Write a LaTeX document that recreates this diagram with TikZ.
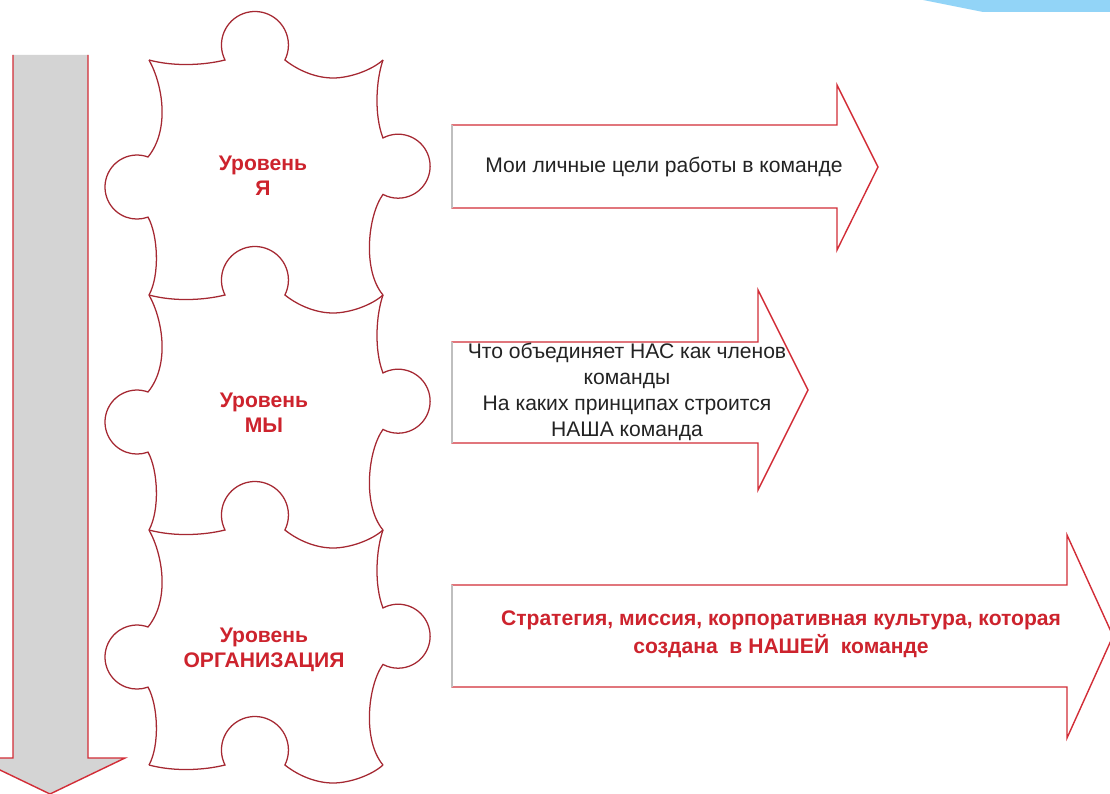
\documentclass[tikz,border=0pt]{standalone}
\usepackage{fontspec}
\setmainfont{Liberation Sans}
\definecolor{pz}{RGB}{165,40,50}
\definecolor{txtred}{RGB}{205,35,45}
\definecolor{arrline}{RGB}{210,45,55}
\definecolor{grayfill}{RGB}{212,212,212}
\definecolor{sky}{RGB}{146,212,247}
\definecolor{txtdark}{RGB}{35,35,35}
\tikzset{
  puz/.style={draw=pz, line width=0.9pt},
  bigarrow/.style={draw=arrline, line width=1pt, fill=white, line join=miter},
  leftedge/.style={draw=black!25, line width=0.8pt},
  lvl/.style={align=center, text=txtred, font=\bfseries\fontsize{15}{17.8}\selectfont, inner sep=0pt},
  plain/.style={align=center, text=txtdark, inner sep=0pt},
  redtxt/.style={align=center, text=txtred, font=\bfseries\fontsize{15}{20}\selectfont, inner sep=0pt}
}
\begin{document}
\begin{tikzpicture}[x=0.025cm, y=-0.025cm]
\clip (0,0) rectangle (1110,794);
\fill[white] (0,0) rectangle (1110,794);
% top-right blue band
\fill[sky] (923,0) -- (983,12) -- (1110,12) -- (1110,0) -- cycle;
% grey downward arrow
\fill[grayfill] (13,55) -- (13,758) -- (-25,758) -- (50,794) -- (125,758) -- (88,758) -- (88,55) -- cycle;
\draw[draw=arrline, line width=1pt] (13,55) -- (13,758) -- (-25,758) -- (50,794) -- (125,758) -- (88,758) -- (88,55);
% puzzle horizontal edges
\foreach \Y in {60,295,530,765} {
  \draw[puz] (149,\Y) .. controls (175,\Y+7) and (205,\Y+5) .. (225,\Y)
     arc[start angle=153.4, end angle=386.6, radius=33.5]
     .. controls (300,\Y+12) and (318,\Y+18) .. (333,\Y+18)
     .. controls (350,\Y+18) and (372,\Y+10) .. (383,\Y);
}
% puzzle sides
\foreach \Y in {60,295,530} {
  \draw[puz] (149,\Y) .. controls (163,\Y+25) and (170,\Y+70) .. (148,\Y+97)
     arc[start angle=290.1, end angle=69.9, radius=32]
     .. controls (158,\Y+175) and (160,\Y+215) .. (149,\Y+235);
  \draw[puz] (383,\Y) .. controls (376,\Y+20) and (374,\Y+55) .. (383,\Y+78)
     arc[start angle=241.8, end angle=478.2, radius=32]
     .. controls (368,\Y+155) and (362,\Y+210) .. (383,\Y+235);
}
% level labels
\node[lvl] (l1) at (263,175.5) {Уровень\\Я};
\node[lvl] (l2) at (264,412.5) {Уровень\\МЫ};
\node[lvl] (l3) at (264,650) {Уровень\\ОРГАНИЗАЦИЯ};
% right arrows
\draw[bigarrow] (452,208) -- (452,125) -- (837,125) -- (837,85) -- (878,167) -- (837,250) -- (837,208) -- cycle;
\draw[leftedge] (452,208) -- (452,125);
\draw[bigarrow] (452,443) -- (452,342) -- (758,342) -- (758,290) -- (808,390) -- (758,490) -- (758,443) -- cycle;
\draw[leftedge] (452,443) -- (452,342);
\draw[bigarrow] (452,687) -- (452,585) -- (1067,585) -- (1067,535) -- (1113,636) -- (1067,738) -- (1067,687) -- cycle;
\draw[leftedge] (452,687) -- (452,585);
% arrow texts
\node[plain, font=\fontsize{15}{18}\selectfont] (t1) at (664,167) {Мои личные цели работы в команде};
\node[plain, font=\fontsize{15}{18.5}\selectfont] (t2) at (627,391.5) {Что объединяет НАС как членов\\команды\\На каких принципах строится\\НАША команда};
\node[redtxt] (t3) at (781,634) {Стратегия, миссия, корпоративная культура, которая\\создана\ \ в НАШЕЙ\ \ команде};
\end{tikzpicture}
\end{document}
